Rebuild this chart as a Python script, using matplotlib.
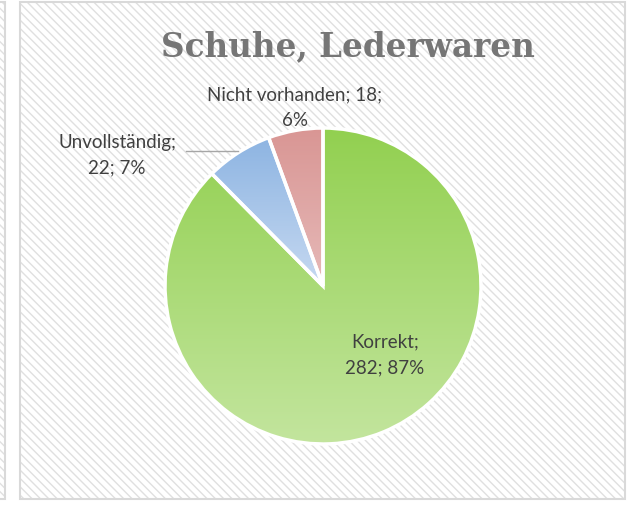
import numpy as np
import matplotlib
matplotlib.use("Agg")
import matplotlib.pyplot as plt
from matplotlib.patches import Rectangle
from matplotlib.colors import LinearSegmentedColormap

# ---- data ----
categories = ["Korrekt", "Unvollständig", "Nicht vorhanden"]
values = [282, 22, 18]
percent_labels = ["87%", "7%", "6%"]
title = "Schuhe, Lederwaren"

top_colors = ["#92D050", "#8DB4E2", "#D99694"]
bottom_colors = ["#C3E59E", "#C6D9F1", "#E6B9B8"]

W, H = 633, 506
plt.rcParams['hatch.linewidth'] = 1.0
fig = plt.figure(figsize=(W / 100, H / 100), dpi=100)
fig.patch.set_facecolor("white")
ax = fig.add_axes([0, 0, 1, 1])
ax.set_axis_off()

def py(y):
    return H - y

hatch_col = "#e0e0e0"
# background chart area with hatch
ax.add_patch(Rectangle((20, py(500)), 605, 497, facecolor="white", edgecolor=hatch_col,
                       hatch="\\\\\\\\", linewidth=0, zorder=0))
ax.add_patch(Rectangle((20, py(500)), 605, 497, facecolor="none", edgecolor="#d9d9d9",
                       linewidth=1.5, zorder=1))
# neighbouring chart edge on the left
ax.add_patch(Rectangle((-10, py(500)), 14.5, 497, facecolor="white", edgecolor=hatch_col,
                       hatch="\\\\\\\\", linewidth=0, zorder=0))
ax.add_patch(Rectangle((-10, py(500)), 14.5, 497, facecolor="none", edgecolor="#d9d9d9",
                       linewidth=1.5, zorder=1))

cx, cy, r = 323, py(287), 158
wedges, _ = ax.pie(values, startangle=90, counterclock=False, center=(cx, cy), radius=r,
                   colors=["none"] * 3, wedgeprops=dict(edgecolor="white", linewidth=2.5))
for w, tc, bc in zip(wedges, top_colors, bottom_colors):
    w.set_zorder(3)
    verts = w.get_path().vertices
    x0, x1 = verts[:, 0].min(), verts[:, 0].max()
    y0, y1 = verts[:, 1].min(), verts[:, 1].max()
    cmap = LinearSegmentedColormap.from_list("g", [bc, tc])
    grad = np.linspace(1, 0, 256).reshape(-1, 1)
    im = ax.imshow(grad, cmap=cmap, extent=(x0, x1, y0, y1), aspect="auto",
                   origin="upper", zorder=2, interpolation="bilinear")
    im.set_clip_path(w)

ax.set_xlim(0, W)
ax.set_ylim(0, H)

ax.text(348, py(47), title, ha="center", va="center", fontsize=23.5, fontweight="bold",
        family="DejaVu Serif", color="#767676", zorder=5)

lab_font = dict(family="Lato", fontsize=13.5, color="#404040", ha="center", va="center",
                linespacing=1.6, zorder=5)
ax.text(385, py(355), f"{categories[0]};\n{values[0]}; {percent_labels[0]}", **lab_font)
ax.text(117, py(155), f"{categories[1]};\n{values[1]}; {percent_labels[1]}", **lab_font)
ax.text(295, py(108), f"{categories[2]}; {values[2]};\n{percent_labels[2]}", **lab_font)

ax.plot([186, 238], [py(152), py(152)], color="#a6a6a6", linewidth=1, zorder=4)

fig.savefig("out.png", dpi=100, facecolor="white")
